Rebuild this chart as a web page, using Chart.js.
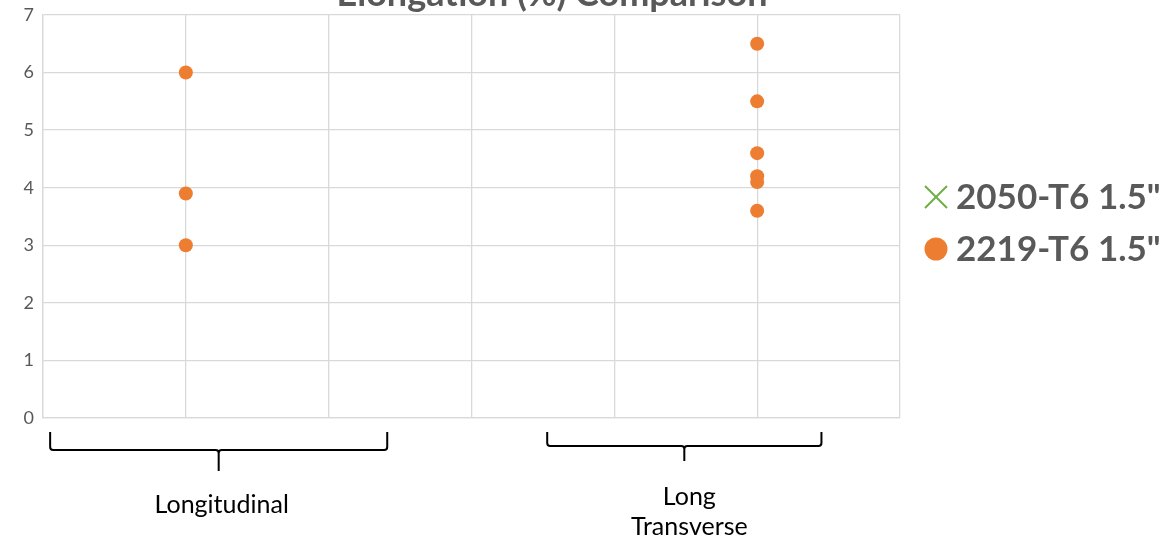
<!DOCTYPE html>
<html>
<head>
<meta charset="utf-8">
<script src="https://cdn.jsdelivr.net/npm/chart.js@4/dist/chart.umd.min.js"></script>
<style>
  html, body { margin: 0; padding: 0; background: #fff; }
  #wrap { width: 1174px; height: 542px; }
</style>
</head>
<body>
<div id="wrap"><canvas id="elongation"></canvas></div>
<script>
const chartTitle = 'Elongation (%) Comparison'
const seriesNames = ['2050-T6 1.5"', '2219-T6 1.5"']

// 2050-T6 has no points shown on the chart
const x2050 = []
const y2050 = []

// x = 1 longitudinal, x = 5 long transverse
const x2219 = [1, 1, 1, 5, 5, 5, 5, 5, 5]
const y2219 = [6, 3.9, 3, 6.5, 5.5, 4.6, 4.2, 4.1, 3.6]

// orientation groups shown as braces under the x axis
const groupLabels = [['Longitudinal'], ['Long', 'Transverse']]
const groupFrom = [0.05, 3.53]
const groupTo = [2.41, 5.45]

const grey = '#595959'
const gridGrey = '#d9d9d9'
const font = 'Lato, "Open Sans", sans-serif'

function points(xs, ys) {
  return xs.map((x, i) => ({ x: x, y: ys[i] }))
}

const titlePlugin = {
  id: 'clippedTitle',
  afterDraw(chart) {
    const ctx = chart.ctx
    ctx.save()
    ctx.font = 'bold 36px ' + font
    ctx.fillStyle = grey
    ctx.textAlign = 'center'
    ctx.textBaseline = 'alphabetic'
    ctx.fillText(chartTitle, 552, 6)
    ctx.restore()
  },
}

const bracePlugin = {
  id: 'braces',
  afterDraw(chart) {
    const ctx = chart.ctx
    const xs = chart.scales.x
    ctx.save()
    ctx.strokeStyle = '#000'
    ctx.lineWidth = 2
    groupLabels.forEach((lines, i) => {
      const a = xs.getPixelForValue(groupFrom[i])
      const b = xs.getPixelForValue(groupTo[i])
      const mid = (a + b) / 2
      const top = 432
      const bot = i === 0 ? 450 : 446
      const tip = i === 0 ? 471 : 461
      const r = 3
      ctx.beginPath()
      ctx.moveTo(a, top)
      ctx.lineTo(a, bot - r)
      ctx.quadraticCurveTo(a, bot, a + r, bot)
      ctx.lineTo(mid - r, bot)
      ctx.quadraticCurveTo(mid, bot, mid, bot + r)
      ctx.lineTo(mid, tip)
      ctx.moveTo(mid, bot + r)
      ctx.quadraticCurveTo(mid, bot, mid + r, bot)
      ctx.lineTo(b - r, bot)
      ctx.quadraticCurveTo(b, bot, b, bot - r)
      ctx.lineTo(b, top)
      ctx.stroke()

      ctx.fillStyle = '#000'
      ctx.font = '25px ' + font
      ctx.textAlign = 'center'
      ctx.textBaseline = 'middle'
      if (lines.length === 1) {
        ctx.fillText(lines[0], mid + 3, 505)
      } else {
        ctx.fillText(lines[0], mid + 5, 497)
        ctx.fillText(lines[1], mid + 5, 527)
      }
    })
    ctx.restore()
  },
}

const legendPlugin = {
  id: 'sideLegend',
  afterDraw(chart) {
    const ctx = chart.ctx
    const rows = [197, 249]
    ctx.save()
    chart.data.datasets.forEach((ds, i) => {
      const y = rows[i]
      const cx = 936
      ctx.strokeStyle = ds.borderColor
      ctx.fillStyle = ds.backgroundColor
      ctx.lineWidth = 2
      if (ds.pointStyle === 'crossRot') {
        ctx.beginPath()
        ctx.moveTo(cx - 11, y - 11)
        ctx.lineTo(cx + 11, y + 11)
        ctx.moveTo(cx + 11, y - 11)
        ctx.lineTo(cx - 11, y + 11)
        ctx.stroke()
      } else {
        ctx.beginPath()
        ctx.arc(cx, y, 11.5, 0, Math.PI * 2)
        ctx.fill()
      }
      ctx.fillStyle = grey
      ctx.font = 'bold 35px ' + font
      ctx.textAlign = 'left'
      ctx.textBaseline = 'middle'
      ctx.fillText(ds.label, 956, y + 1)
    })
    ctx.restore()
  },
}

const elongationData = {
  datasets: [
    {
      label: seriesNames[0],
      data: points(x2050, y2050),
      pointStyle: 'crossRot',
      borderColor: '#70ad47',
      backgroundColor: '#70ad47',
      pointRadius: 7,
    },
    {
      label: seriesNames[1],
      data: points(x2219, y2219),
      pointStyle: 'circle',
      borderColor: '#ed7d31',
      backgroundColor: '#ed7d31',
      pointRadius: 7,
      pointBorderWidth: 0,
    },
  ],
}

const configElongation = {
  type: 'scatter',
  data: elongationData,
  options: {
    responsive: true,
    maintainAspectRatio: false,
    animation: false,
    layout: { padding: { left: 0, top: 15, right: 274, bottom: 0 } },
    plugins: {
      legend: { display: false },
      title: { display: false },
      tooltip: { enabled: false },
    },
    scales: {
      x: {
        min: 0,
        max: 6,
        ticks: { display: false, stepSize: 1 },
        grid: { color: gridGrey, lineWidth: 1.3, drawTicks: false },
        border: { color: gridGrey, width: 1.3 },
        afterFit(scale) { scale.height = 124 },
      },
      y: {
        min: 0,
        max: 7,
        ticks: {
          stepSize: 1,
          color: grey,
          padding: 9,
          font: { family: font, size: 18 },
        },
        grid: { color: gridGrey, lineWidth: 1.3, drawTicks: false },
        border: { color: gridGrey, width: 1.3 },
        afterFit(scale) {
          scale.width = 43
          scale.paddingTop = 0
          scale.paddingBottom = 0
        },
      },
    },
  },
  plugins: [titlePlugin, bracePlugin, legendPlugin],
}

const elongationChart = new Chart(document.getElementById('elongation'), configElongation)
</script>
</body>
</html>
